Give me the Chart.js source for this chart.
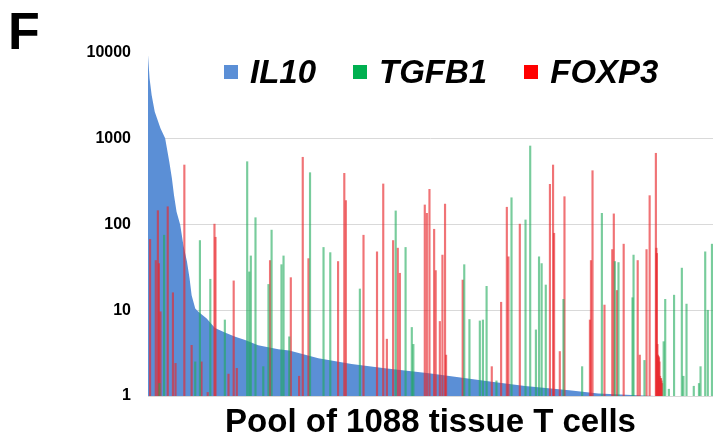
<!DOCTYPE html>
<html>
<head>
<meta charset="utf-8">
<script src="https://cdn.jsdelivr.net/npm/chart.js@4.4.0/dist/chart.umd.min.js"></script>
<style>
  html, body { margin: 0; background: #fff; }
  #wrap { position: relative; width: 713px; height: 440px; }
  #panel { position: absolute; left: 8px; top: 5px; font: bold 52px/52px 'Liberation Sans', Arial, sans-serif; color: #000; }
  #legend { position: absolute; left: 224px; top: 55px; display: flex; align-items: center; gap: 37px;
            font: italic bold 33px/33px 'Liberation Sans', Arial, sans-serif; color: #000; }
  .item { display: flex; align-items: center; }
  .box { width: 14px; height: 14px; margin-right: 12px; }
</style>
</head>
<body>
<div id="wrap">
  <canvas id="chart" width="713" height="440"></canvas>
  <div id="panel">F</div>
  <div id="legend"></div>
</div>
<script>
// cells are ranked 0..1087 by IL10 expression
const cellCount = 1088;
const yTicks = [1, 10, 100, 1000, 10000];
const seriesNames = ['IL10', 'TGFB1', 'FOXP3'];
const xTitle = 'Pool of 1088 tissue T cells';

const il10Cells = [0, 3, 7, 13, 24, 33, 41, 46, 50, 55, 62, 68, 75, 80, 84, 91, 97, 113, 129, 148, 168, 187, 212, 251, 272, 328, 392, 456, 541, 598, 662, 726, 811, 867, 931, 976];
const il10Values = [9480, 5070, 3240, 2070, 1324, 1012, 540, 346, 221, 141, 99, 58, 37, 23.6, 15, 10.5, 9.6, 8.0, 6.2, 5.5, 4.9, 4.5, 3.9, 3.5, 3.4, 2.75, 2.36, 2.1, 1.84, 1.65, 1.47, 1.31, 1.17, 1.07, 1.03, 1.0];

const tgfb1Cells = [22, 31, 91, 100, 120, 148, 191, 195, 198, 207, 222, 232, 238, 257, 261, 272, 312, 338, 351, 408, 477, 496, 508, 511, 609, 619, 639, 645, 652, 671, 700, 727, 736, 747, 753, 758, 766, 800, 836, 874, 899, 906, 933, 935, 956, 993, 996, 1003, 1013, 1028, 1031, 1037, 1051, 1061, 1064, 1073, 1078, 1086];
const tgfb1Values = [1.4, 75, 2.5, 65, 23, 7.7, 540, 28, 43, 120, 2.2, 20, 86, 34, 43, 4.9, 402, 54, 47, 17.7, 144, 54, 6.3, 4, 34, 7.8, 7.5, 7.7, 19, 1.5, 205, 113, 823, 5.9, 42, 35, 19.7, 13.4, 2.2, 135, 37, 36, 14, 44, 2.6, 4.3, 13.4, 1.2, 15, 31, 1.7, 11.8, 1.3, 1.4, 2.2, 48, 10, 59];

const foxp3Cells = [4, 15, 19, 21, 24, 38, 48, 53, 70, 84, 103, 115, 128, 130, 155, 165, 171, 235, 275, 291, 298, 309, 366, 378, 381, 415, 441, 453, 460, 472, 481, 485, 533, 537, 542, 551, 554, 562, 567, 572, 574, 606, 662, 680, 691, 694, 716, 774, 780, 782, 793, 802, 851, 853, 856, 879, 894, 897, 903, 916, 943, 947, 960, 966, 978, 979, 980, 981, 982, 983, 984, 985, 986, 987, 988, 989, 990];
const foxp3Values = [67, 38, 145, 35, 9.6, 161, 16, 2.4, 494, 3.9, 2.5, 1.1, 101, 71, 1.8, 22, 2.1, 38, 24, 1.7, 608, 40, 37, 395, 190, 75, 48, 297, 4.6, 65, 53, 27, 169, 135, 257, 88, 29, 7.4, 44, 173, 3, 22.5, 2.2, 12.4, 159, 42, 101, 294, 494, 79, 3.3, 211, 7.7, 38, 424, 11.5, 51, 133, 17, 59, 38, 3, 51, 217, 677, 53, 46, 4, 3, 2.9, 2.8, 2.5, 1.7, 1.6, 1.6, 1.5, 1.4];

const legendColors = ['#5b8fd6', '#00b050', '#ff0000'];
const fontFamily = "'Liberation Sans', Arial, sans-serif";

const toPoints = (cells, values) => cells.map((x, i) => ({ x, y: values[i] }));

const chart = new Chart(document.getElementById('chart'), {
  type: 'bar',
  data: {
    datasets: [
      {
        type: 'line',
        label: seriesNames[0],
        data: toPoints(il10Cells, il10Values),
        backgroundColor: legendColors[0],
        borderWidth: 0,
        pointRadius: 0,
        tension: 0,
        fill: 'start',
        order: 2
      },
      {
        label: seriesNames[1],
        data: toPoints(tgfb1Cells, tgfb1Values),
        backgroundColor: 'rgba(30, 170, 90, 0.6)',
        barThickness: 1.5,
        grouped: false,
        order: 1
      },
      {
        label: seriesNames[2],
        data: toPoints(foxp3Cells, foxp3Values),
        backgroundColor: 'rgba(232, 40, 45, 0.65)',
        barThickness: 1.5,
        grouped: false,
        order: 1
      }
    ]
  },
  options: {
    responsive: false,
    animation: false,
    layout: { padding: { top: 53, left: 0, right: 0, bottom: 0 } },
    plugins: {
      legend: { display: false },
      tooltip: { enabled: false }
    },
    scales: {
      x: {
        type: 'linear',
        min: 0,
        max: cellCount,
        offset: false,
        ticks: { display: false },
        grid: { display: false, drawTicks: false },
        border: { display: true, color: '#d9d9d9' },
        title: {
          display: true,
          text: xTitle,
          color: '#000',
          padding: 0,
          font: { family: fontFamily, size: 33, weight: 'bold', lineHeight: 1.03 }
        },
        afterFit: scale => { scale.height = 44; }
      },
      y: {
        type: 'logarithmic',
        min: 1,
        max: 10000,
        afterBuildTicks: scale => { scale.ticks = yTicks.map(value => ({ value })); },
        ticks: {
          callback: value => String(value),
          color: '#000',
          padding: 17,
          font: { family: fontFamily, size: 16, weight: 'bold' }
        },
        grid: {
          drawTicks: false,
          color: ctx => (ctx.tick && ctx.tick.value > 1 && ctx.tick.value < 10000) ? '#d9d9d9' : 'rgba(0,0,0,0)'
        },
        border: { display: false },
        afterFit: scale => { scale.width = 148; }
      }
    }
  }
});

// html legend built from the chart's datasets
const legend = document.getElementById('legend');
chart.data.datasets.forEach((ds, i) => {
  legend.insertAdjacentHTML('beforeend',
    `<div class="item"><span class="box" style="background:${legendColors[i]}"></span><span>${ds.label}</span></div>`);
});
</script>
</body>
</html>
